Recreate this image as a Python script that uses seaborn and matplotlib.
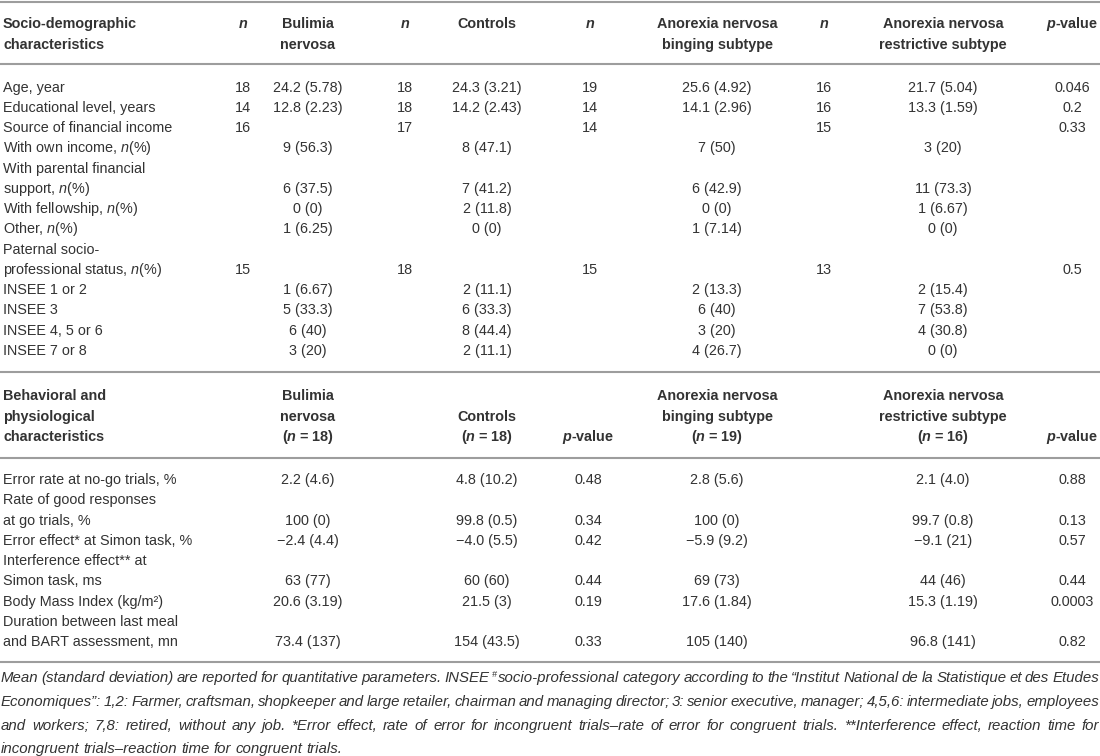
import matplotlib
matplotlib.use("Agg")
import matplotlib.pyplot as plt
from matplotlib import font_manager as fm
import seaborn as sns

# ---------------- data ----------------
# Section 1: socio-demographic characteristics
labels1 = [["Age, year"], ["Educational level, years"], ["Source of financial income"],
           ["With own income, $\\mathit{n}$(%)"],
           ["With parental financial", "support, $\\mathit{n}$(%)"],
           ["With fellowship, $\\mathit{n}$(%)"], ["Other, $\\mathit{n}$(%)"],
           ["Paternal socio-", "professional status, $\\mathit{n}$(%)"],
           ["INSEE 1 or 2"], ["INSEE 3"], ["INSEE 4, 5 or 6"], ["INSEE 7 or 8"]]
n_bn = ["18", "14", "16", "", "", "", "", "15", "", "", "", ""]
val_bn = ["24.2 (5.78)", "12.8 (2.23)", "", "9 (56.3)", "6 (37.5)", "0 (0)", "1 (6.25)", "",
          "1 (6.67)", "5 (33.3)", "6 (40)", "3 (20)"]
n_ctrl = ["18", "18", "17", "", "", "", "", "18", "", "", "", ""]
val_ctrl = ["24.3 (3.21)", "14.2 (2.43)", "", "8 (47.1)", "7 (41.2)", "2 (11.8)", "0 (0)", "",
            "2 (11.1)", "6 (33.3)", "8 (44.4)", "2 (11.1)"]
n_anb = ["19", "14", "14", "", "", "", "", "15", "", "", "", ""]
val_anb = ["25.6 (4.92)", "14.1 (2.96)", "", "7 (50)", "6 (42.9)", "0 (0)", "1 (7.14)", "",
           "2 (13.3)", "6 (40)", "3 (20)", "4 (26.7)"]
n_anr = ["16", "16", "15", "", "", "", "", "13", "", "", "", ""]
val_anr = ["21.7 (5.04)", "13.3 (1.59)", "", "3 (20)", "11 (73.3)", "1 (6.67)", "0 (0)", "",
           "2 (15.4)", "7 (53.8)", "4 (30.8)", "0 (0)"]
p_1 = ["0.046", "0.2", "0.33", "", "", "", "", "0.5", "", "", "", ""]

# Section 2: behavioral and physiological characteristics
labels2 = [["Error rate at no-go trials, %"], ["Rate of good responses", "at go trials, %"],
           ["Error effect* at Simon task, %"], ["Interference effect** at", "Simon task, ms"],
           ["Body Mass Index (kg/m\u00b2)"], ["Duration between last meal", "and BART assessment, mn"]]
bn2 = ["2.2 (4.6)", "100 (0)", "\u22122.4 (4.4)", "63 (77)", "20.6 (3.19)", "73.4 (137)"]
ctrl2 = ["4.8 (10.2)", "99.8 (0.5)", "\u22124.0 (5.5)", "60 (60)", "21.5 (3)", "154 (43.5)"]
p_bn_ctrl = ["0.48", "0.34", "0.42", "0.44", "0.19", "0.33"]
anb2 = ["2.8 (5.6)", "100 (0)", "\u22125.9 (9.2)", "69 (73)", "17.6 (1.84)", "105 (140)"]
anr2 = ["2.1 (4.0)", "99.7 (0.8)", "\u22129.1 (21)", "44 (46)", "15.3 (1.19)", "96.8 (141)"]
p_an = ["0.88", "0.13", "0.57", "0.44", "0.0003", "0.82"]

# "#" at the start of a word is drawn as a superscript mark
footnote_lines = [
    "Mean (standard deviation) are reported for quantitative parameters. INSEE #socio-professional "
    "category according to the \u201cInstitut National de la Statistique et des Etudes",
    "Economiques\u201d: 1,2: Farmer, craftsman, shopkeeper and large retailer, chairman and managing director; "
    "3: senior executive, manager; 4,5,6: intermediate jobs, employees",
    "and workers; 7,8: retired, without any job. *Error effect, rate of error for incongruent trials\u2013rate "
    "of error for congruent trials. **Interference effect, reaction time for",
    "incongruent trials\u2013reaction time for congruent trials.",
]

# ---------------- style ----------------
sns.set_theme(style="white")
FAM = "Liberation Sans"
plt.rcParams["font.family"] = [FAM, "DejaVu Sans"]
plt.rcParams["mathtext.fontset"] = "custom"
plt.rcParams["mathtext.rm"] = FAM
plt.rcParams["mathtext.it"] = FAM + ":italic"
plt.rcParams["mathtext.bf"] = FAM + ":bold"
plt.rcParams["mathtext.bfit"] = FAM + ":italic:bold"

names = {f.name for f in fm.fontManager.ttflist}
FOOT_FAM = "Liberation Sans Narrow" if "Liberation Sans Narrow" in names else FAM

TXT = "#333333"
LINE = "#9d9d9d"
FS = 10.4
BASE = 5.2  # centre-to-baseline offset in px

W, H = 1100, 756
fig = plt.figure(figsize=(W / 100, H / 100), dpi=100)
ax = fig.add_axes([0, 0, 1, 1])
ax.set_xlim(0, W)
ax.set_ylim(H, 0)
ax.axis("off")


def t(x, y, s, ha="center", bold=False, **kw):
    ax.text(x, y + BASE, s, ha=ha, va="baseline", fontsize=FS, color=TXT,
            fontweight="bold" if bold else "normal", **kw)


# column centres
X_LAB = 3
X_N1, X_BN, X_N2, X_CT, X_N3, X_ANB, X_N4, X_ANR, X_P = 243, 308, 405, 487, 590, 717, 824, 943, 1072
X_P2 = 588

# rules
for y in (2, 64, 372, 458, 662):
    ax.plot([0, W], [y, y], color=LINE, lw=1.5, solid_capstyle="butt")

# ---------- section 1 header ----------
t(X_LAB, 23, "Socio-demographic", ha="left", bold=True)
t(X_LAB, 44, "characteristics", ha="left", bold=True)
for xn in (X_N1, X_N2, X_N3, X_N4):
    t(xn, 23, "$\\mathbfit{n}$")
t(X_BN, 23, "Bulimia", bold=True)
t(X_BN, 44, "nervosa", bold=True)
t(X_CT, 23, "Controls", bold=True)
t(X_ANB, 23, "Anorexia nervosa", bold=True)
t(X_ANB, 44, "binging subtype", bold=True)
t(X_ANR, 23, "Anorexia nervosa", bold=True)
t(X_ANR, 44, "restrictive subtype", bold=True)
t(X_P, 23, "$\\mathbfit{p}$-value", bold=True)

# ---------- section 1 body ----------
y = 86.5
STEP = 20.25
for i, lab in enumerate(labels1):
    for j, line in enumerate(lab):
        t(X_LAB, y + j * STEP, line, ha="left")
    yv = y + (len(lab) - 1) * STEP
    for x, col in ((X_N1, n_bn), (X_BN, val_bn), (X_N2, n_ctrl), (X_CT, val_ctrl),
                   (X_N3, n_anb), (X_ANB, val_anb), (X_N4, n_anr), (X_ANR, val_anr), (X_P, p_1)):
        if col[i]:
            t(x, yv, col[i])
    y += len(lab) * STEP

# ---------- section 2 header ----------
for j, s in enumerate(["Behavioral and", "physiological", "characteristics"]):
    t(X_LAB, 395 + j * 20.5, s, ha="left", bold=True)
for j, s in enumerate(["Bulimia", "nervosa", "($\\mathbfit{n}$ = 18)"]):
    t(X_BN, 395 + j * 20.5, s, bold=True)
t(X_CT, 415.5, "Controls", bold=True)
t(X_CT, 436, "($\\mathbfit{n}$ = 18)", bold=True)
t(X_P2, 436, "$\\mathbfit{p}$-value", bold=True)
for j, s in enumerate(["Anorexia nervosa", "binging subtype", "($\\mathbfit{n}$ = 19)"]):
    t(X_ANB, 395 + j * 20.5, s, bold=True)
for j, s in enumerate(["Anorexia nervosa", "restrictive subtype", "($\\mathbfit{n}$ = 16)"]):
    t(X_ANR, 395 + j * 20.5, s, bold=True)
t(X_P, 436, "$\\mathbfit{p}$-value", bold=True)

# ---------- section 2 body ----------
y = 479
for i, lab in enumerate(labels2):
    for j, line in enumerate(lab):
        t(X_LAB, y + j * STEP, line, ha="left")
    yv = y + (len(lab) - 1) * STEP
    for x, col in ((X_BN, bn2), (X_CT, ctrl2), (X_P2, p_bn_ctrl),
                   (X_ANB, anb2), (X_ANR, anr2), (X_P, p_an)):
        t(x, yv, col[i])
    y += len(lab) * STEP

# ---------- footnote (justified) ----------
renderer = fig.canvas.get_renderer()
FOOT_FS = 10.8
SUP_RATIO = 0.6
foot_kw = dict(fontsize=FOOT_FS, fontstyle="italic", family=[FOOT_FAM, "DejaVu Sans"], color=TXT)


def measure(s, fs):
    tt = ax.text(0, 0, s, **{**foot_kw, "fontsize": fs})
    wd = tt.get_window_extent(renderer).width
    tt.remove()
    return wd


def word_width(w):
    if w.startswith("#"):
        return measure("#", FOOT_FS * SUP_RATIO) + 1 + measure(w[1:], FOOT_FS)
    return measure(w, FOOT_FS)


def draw_word(x, yb, w):
    if w.startswith("#"):
        ax.text(x, yb - 5.5, "#", ha="left", va="baseline",
                **{**foot_kw, "fontsize": FOOT_FS * SUP_RATIO})
        x += measure("#", FOOT_FS * SUP_RATIO) + 1
        w = w[1:]
    ax.text(x, yb, w, ha="left", va="baseline", **foot_kw)


space_w = measure("a a", FOOT_FS) - 2 * measure("a", FOOT_FS)
line_words = [ln.split(" ") for ln in footnote_lines]
max_nat = max(sum(word_width(w) for w in ws) + 0.6 * space_w * (len(ws) - 1)
              for ws in line_words[:-1])
if max_nat > W - 4:
    scale = (W - 4) / max_nat
    FOOT_FS *= scale
    foot_kw["fontsize"] = FOOT_FS
    space_w *= scale

x0, x1 = 1, W - 1
for k, ws in enumerate(line_words):
    yl = 677 + k * 23.7 + 5.2
    widths = [word_width(w) for w in ws]
    if k < len(line_words) - 1:
        gap = (x1 - x0 - sum(widths)) / (len(ws) - 1)
    else:
        gap = space_w
    x = x0
    for w, wd in zip(ws, widths):
        draw_word(x, yl, w)
        x += wd + gap

fig.savefig("out.png", dpi=100)
